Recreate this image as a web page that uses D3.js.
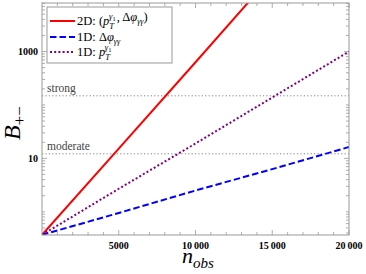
<!DOCTYPE html>
<html>
<head>
<meta charset="utf-8">
<script src="https://cdn.jsdelivr.net/npm/d3@7"></script>
<style>
body { margin: 0; background: #fff; }
</style>
</head>
<body>
<svg width="366" height="274" font-family="'Liberation Serif', 'Times New Roman', Times, serif"></svg>
<script>
var svg = d3.select("svg");

var nObs = [0, 5000, 10000, 15000, 20000];
var b2D = [0.37, 15.2, 630, 26900, 1100000];
var b1DPhi = [0.37, 0.95, 2.5, 6.3, 16.3];
var b1DPt = [0.37, 2.7, 19, 138, 1000];

var thresholds = [148.4, 12.18];
var thresholdNames = ["strong", "moderate"];

var xTicks = [5000, 10000, 15000, 20000];
var xTickLabels = ["5000", "10\u2009000", "15\u2009000", "20\u2009000"];
var yTicks = [10, 1000];
var yTickLabels = ["10", "1000"];

var plotL = 42, plotR = 349, plotT = 3, plotB = 235;

var x = d3.scaleLinear().domain([0, 20000]).range([plotL, plotR]);
var y = d3.scaleLog().domain([Math.exp(-1), Math.exp(9)]).range([plotB, plotT]);

svg.append("clipPath").attr("id", "plotclip")
  .append("rect")
  .attr("x", plotL).attr("y", plotT)
  .attr("width", plotR - plotL).attr("height", plotB - plotT);

// minor ticks
var xMinor = d3.range(0, 20001, 1000).filter(function(d) { return d % 5000 != 0; });
var yMinor = [];
for (var k = -1; k <= 4; k++) {
  for (var m = 1; m <= 9; m++) {
    var v = m * Math.pow(10, k);
    if (v > y.domain()[0] && v < y.domain()[1] && yTicks.indexOf(v) < 0) yMinor.push(v);
  }
}

var frameColor = "#999";

function tickMarks(data, pos, horizontal, edge, len) {
  svg.append("g").selectAll("line")
    .data(data)
    .enter().append("line")
    .attr("x1", function(d) { return horizontal ? pos(d) : edge; })
    .attr("x2", function(d) { return horizontal ? pos(d) : edge + len; })
    .attr("y1", function(d) { return horizontal ? edge : pos(d); })
    .attr("y2", function(d) { return horizontal ? edge + len : pos(d); })
    .attr("stroke", frameColor)
    .attr("stroke-width", 0.8);
}

tickMarks(xTicks, x, true, plotB, -5);
tickMarks(xMinor, x, true, plotB, -3);
tickMarks(xTicks, x, true, plotT, 5);
tickMarks(xMinor, x, true, plotT, 3);
tickMarks(yTicks, y, false, plotL, 5);
tickMarks(yMinor, y, false, plotL, 3);
tickMarks(yTicks, y, false, plotR, -5);
tickMarks(yMinor, y, false, plotR, -3);

// threshold lines
svg.append("g").selectAll("line")
  .data(thresholds)
  .enter().append("line")
  .attr("x1", plotL).attr("x2", plotR)
  .attr("y1", function(d) { return y(d); })
  .attr("y2", function(d) { return y(d); })
  .attr("stroke", "#777")
  .attr("stroke-width", 0.9)
  .attr("stroke-dasharray", "1.2,2.2");

svg.append("g").selectAll("text")
  .data(thresholds)
  .enter().append("text")
  .attr("x", 47)
  .attr("y", function(d) { return y(d) - 4; })
  .attr("font-size", 11.5)
  .attr("fill", "#444")
  .text(function(d, i) { return thresholdNames[i]; });

// curves
var line = d3.line()
  .x(function(d, i) { return x(nObs[i]); })
  .y(function(d) { return y(d); });

var series = [
  { values: b2D, color: "#ff0000", dash: null },
  { values: b1DPhi, color: "#0000ff", dash: "6.5,3" },
  { values: b1DPt, color: "#800080", dash: "2,2.2" }
];

svg.append("g").attr("clip-path", "url(#plotclip)")
  .selectAll("path")
  .data(series)
  .enter().append("path")
  .attr("d", function(d) { return line(d.values); })
  .attr("fill", "none")
  .attr("stroke", function(d) { return d.color; })
  .attr("stroke-width", 2)
  .attr("stroke-dasharray", function(d) { return d.dash; });

// frame
svg.append("rect")
  .attr("x", plotL).attr("y", plotT)
  .attr("width", plotR - plotL).attr("height", plotB - plotT)
  .attr("fill", "none")
  .attr("stroke", frameColor)
  .attr("stroke-width", 1);

// tick labels
svg.append("g").selectAll("text")
  .data(xTicks)
  .enter().append("text")
  .attr("x", function(d) { return x(d); })
  .attr("y", 249)
  .attr("text-anchor", "middle")
  .attr("font-size", 10)
  .attr("font-weight", "bold")
  .text(function(d, i) { return xTickLabels[i]; });

svg.append("g").selectAll("text")
  .data(yTicks)
  .enter().append("text")
  .attr("x", 38)
  .attr("y", function(d) { return y(d) + 3.5; })
  .attr("text-anchor", "end")
  .attr("font-size", 10)
  .attr("font-weight", "bold")
  .text(function(d, i) { return yTickLabels[i]; });

// axis titles
var xl = svg.append("text").attr("x", 182).attr("y", 263).attr("font-size", 22).attr("font-style", "italic");
xl.append("tspan").text("n");
xl.append("tspan").attr("font-size", 15).attr("dy", 5).text("obs");

var yl = svg.append("text")
  .attr("transform", "translate(20,140) rotate(-90)")
  .attr("font-size", 24)
  .attr("font-style", "italic");
yl.append("tspan").text("B");
yl.append("tspan").attr("font-size", 17).attr("font-style", "normal").attr("dy", 5).text("+\u2212");

// legend
var lg = svg.append("g");
lg.append("rect")
  .attr("x", 47).attr("y", 7).attr("width", 125).attr("height", 56)
  .attr("fill", "#fff").attr("stroke", "#999").attr("stroke-width", 1);

var legendY = [21, 37, 52];
lg.selectAll("line")
  .data(series)
  .enter().append("line")
  .attr("x1", 50).attr("x2", 75)
  .attr("y1", function(d, i) { return legendY[i]; })
  .attr("y2", function(d, i) { return legendY[i]; })
  .attr("stroke", function(d) { return d.color; })
  .attr("stroke-width", 2)
  .attr("stroke-dasharray", function(d) { return d.dash; });

function rich(t, parts) {
  parts.forEach(function(p) {
    var s = t.append("tspan").text(p[0]);
    if (p[1]) s.attr("font-style", "italic");
    if (p[2]) s.attr("font-size", p[2]);
    if (p[3]) s.attr("dy", p[3]);
    if (p[4]) s.attr("dx", p[4]);
  });
}

var ptParts = [["p", true], ["T", true, 8.5, 3.5], ["\u03b3", true, 8.5, -9.5, -5], ["1", false, 6.5, 2], ["", false, null, 4]];

var t1 = lg.append("text").attr("x", 77).attr("y", 25).attr("font-size", 12.5);
rich(t1, [["2D: ("]].concat(ptParts).concat([[", \u0394", false, null, null, 1], ["\u03c6", true], ["\u03b3\u03b3", true, 8, 2.5], [")", false, null, -2.5]]));

var t2 = lg.append("text").attr("x", 77).attr("y", 41).attr("font-size", 12.5);
rich(t2, [["1D: \u0394"], ["\u03c6", true], ["\u03b3\u03b3", true, 8, 2.5]]);

var t3 = lg.append("text").attr("x", 77).attr("y", 56).attr("font-size", 12.5);
rich(t3, [["1D: "]].concat(ptParts));
</script>
</body>
</html>
